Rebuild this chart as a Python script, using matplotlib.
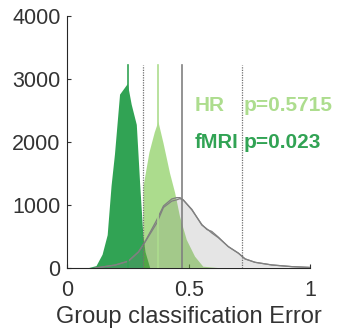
import numpy as np
import matplotlib.pyplot as plt

plt.switch_backend('Agg')
plt.rcParams['font.family'] = ['Liberation Sans', 'DejaVu Sans']

# fMRI classifier error distribution (dark green)
fmri_x = [0.09, 0.12, 0.145, 0.166, 0.182, 0.196, 0.217, 0.249, 0.265, 0.286, 0.293, 0.30, 0.313, 0.322, 0.341]
fmri_y = [0, 30, 210, 520, 1300, 1800, 2750, 2920, 2590, 2270, 1800, 1320, 520, 250, 0]

# HR classifier error distribution (light green)
hr_x = [0.312, 0.314, 0.338, 0.36, 0.375, 0.396, 0.423, 0.444, 0.464, 0.492, 0.526, 0.56, 0.62]
hr_y = [0, 1300, 1830, 2150, 2320, 1980, 1500, 1190, 815, 444, 180, 20, 0]

# null distributions (grey)
null_x = [0.115, 0.197, 0.251, 0.293, 0.32, 0.368, 0.396, 0.43, 0.45, 0.464, 0.478, 0.513, 0.554,
          0.575, 0.595, 0.622, 0.663, 0.705, 0.732, 0.773, 0.842, 0.925, 1.0]
null_a = [0, 48, 111, 259, 418, 760, 985, 1095, 1116, 1116, 1079, 920, 690,
          610, 580, 490, 338, 233, 143, 90, 48, 21, 8]
null_b = [0, 45, 105, 250, 410, 710, 960, 1060, 1080, 1100, 1075, 930, 680,
          620, 555, 480, 340, 235, 145, 90, 48, 21, 8]

fmri_mean = 0.249
hr_mean = 0.375
null_mean = 0.471
null_ci = [0.313, 0.721]
line_top = 3220

dark_green = '#31a354'
light_green = '#addd8e'

fig = plt.figure(figsize=(3.37, 3.30), dpi=100)
ax = fig.add_axes([0.2, 0.188, 0.72, 0.764])

ax.fill(fmri_x, fmri_y, color=dark_green, lw=0, zorder=1)
ax.fill(hr_x, hr_y, color='#5bbb1d', alpha=0.5, lw=0, zorder=2)
ax.fill(null_x, null_a, color='#808080', alpha=0.2, lw=0, zorder=3)
ax.plot(null_x, null_a, color='#808080', lw=0.9, zorder=4)
ax.plot(null_x, null_b, color='#808080', lw=0.9, zorder=4)

ax.plot([fmri_mean, fmri_mean], [0, line_top], color=dark_green, lw=1.2, zorder=5)
ax.plot([hr_mean, hr_mean], [0, line_top], color=light_green, lw=1.2, zorder=5)
ax.plot([null_mean, null_mean], [0, line_top], color='#808080', lw=1.2, zorder=5)
for c in null_ci:
    ax.plot([c, c], [0, line_top], color='#707070', lw=0.9, ls=(0, (1, 1)), zorder=5)

ax.text(0.523, 2492, 'HR', color=light_green, fontsize=15, fontweight='bold')
ax.text(0.728, 2492, 'p=0.5715', color=light_green, fontsize=15, fontweight='bold')
ax.text(0.523, 1900, 'fMRI', color=dark_green, fontsize=14.5, fontweight='bold')
ax.text(0.728, 1900, 'p=0.023', color=dark_green, fontsize=15, fontweight='bold')

ax.set_xlim(0, 1)
ax.set_ylim(0, 4000)
ax.set_xticks([0, 0.5, 1])
ax.set_xticklabels(['0', '0.5', '1'])
ax.set_yticks([0, 1000, 2000, 3000, 4000])
ax.spines['top'].set_visible(False)
ax.spines['right'].set_visible(False)
for s in ['left', 'bottom']:
    ax.spines[s].set_color('#262626')
    ax.spines[s].set_linewidth(0.8)
ax.tick_params(direction='in', length=3, width=0.8, colors='#333333', labelsize=15.5)
ax.tick_params(axis='x', pad=9)
ax.tick_params(axis='y', pad=5)
ax.set_xlabel('Group classification Error', fontsize=17, color='#333333', labelpad=3)

fig.savefig('out.png', dpi=100)
